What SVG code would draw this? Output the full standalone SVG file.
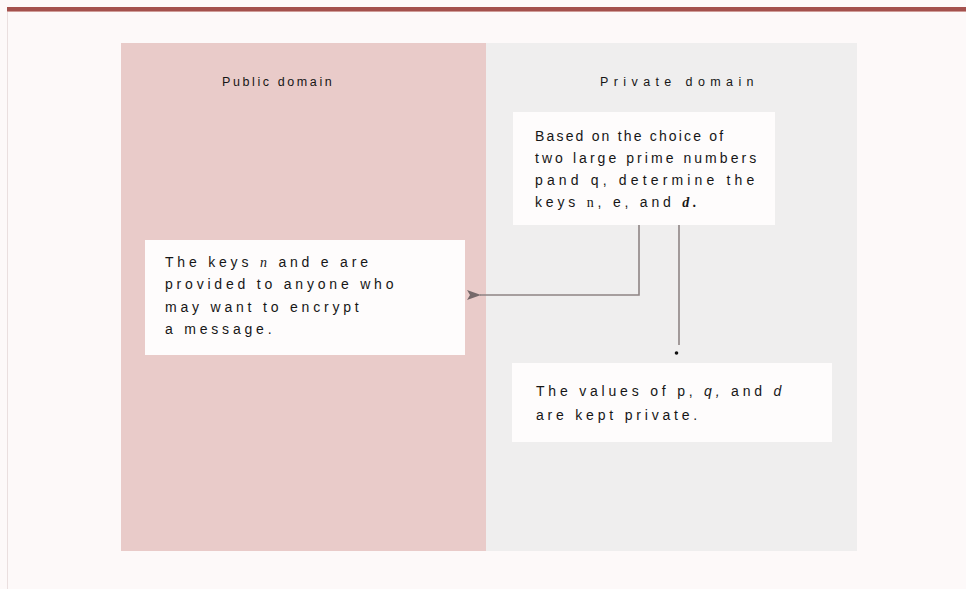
<svg xmlns="http://www.w3.org/2000/svg" width="966" height="589" viewBox="0 0 966 589">
<defs>
<style>
.t{font-family:"Liberation Sans",Arial,sans-serif;font-size:14px;fill:#161616;letter-spacing:3.8px}
.h{font-size:12.5px;letter-spacing:2.6px}
.sf{font-family:"Liberation Serif","Times New Roman",serif}
.box{fill:#fefcfc}
.conn{fill:none;stroke:#8e8484;stroke-width:1.6}
</style>
<marker id="arr" viewBox="0 0 14 10" refX="1" refY="5" markerWidth="14" markerHeight="10" markerUnits="userSpaceOnUse" orient="auto-start-reverse">
<path d="M0,5 L14,0 L11,5 L14,10 Z" fill="#76696a"/>
</marker>
</defs>
<rect x="0" y="0" width="966" height="589" fill="#fdf9f9"/>
<line x1="7.5" y1="10" x2="7.5" y2="589" stroke="#eadfdf" stroke-width="1"/>
<rect x="7" y="7" width="959" height="4" fill="#a4514d"/>
<rect x="7" y="11" width="959" height="1" fill="#cf9c98"/>
<g id="public-domain">
<rect x="121" y="43" width="365" height="508" fill="#e9cbc9"/>
<text class="t h" x="222" y="86">Public domain</text>
</g>
<g id="private-domain">
<rect x="486" y="43" width="371" height="508" fill="#efeeee"/>
<text class="t h" x="600" y="86" style="letter-spacing:5.4px">Private domain</text>
</g>
<g id="choose-keys">
<rect class="box" x="513" y="112" width="262" height="113"/>
<text class="t" x="535" y="141" textLength="192">Based on the choice of</text>
<text class="t" x="535" y="163" textLength="225">two large prime numbers</text>
<text class="t" x="535" y="185" textLength="223">pand q, determine the</text>
<text class="t" x="535" y="207">keys <tspan class="sf">n</tspan>, e, and <tspan class="sf" font-weight="bold" font-style="italic">d.</tspan></text>
</g>
<g id="public-keys">
<rect class="box" x="145" y="240" width="320" height="115"/>
<text class="t" x="165" y="267">The keys <tspan class="sf" font-style="italic">n</tspan> and e are</text>
<text class="t" x="165" y="289">provided to anyone who</text>
<text class="t" x="165" y="312">may want to encrypt</text>
<text class="t" x="165" y="334">a message.</text>
</g>
<g id="private-values">
<rect class="box" x="512" y="363" width="320" height="79"/>
<text class="t" x="536" y="396">The values of p, <tspan font-style="italic">q,</tspan> and <tspan font-style="italic">d</tspan></text>
<text class="t" x="536" y="420">are kept private.</text>
</g>
<g id="connectors">
<path class="conn" d="M639,225 V295 H480" marker-end="url(#arr)"/>
<path class="conn" d="M679,225 V345"/>
<circle cx="676.5" cy="353" r="1.8" fill="#111"/>
</g>
</svg>
